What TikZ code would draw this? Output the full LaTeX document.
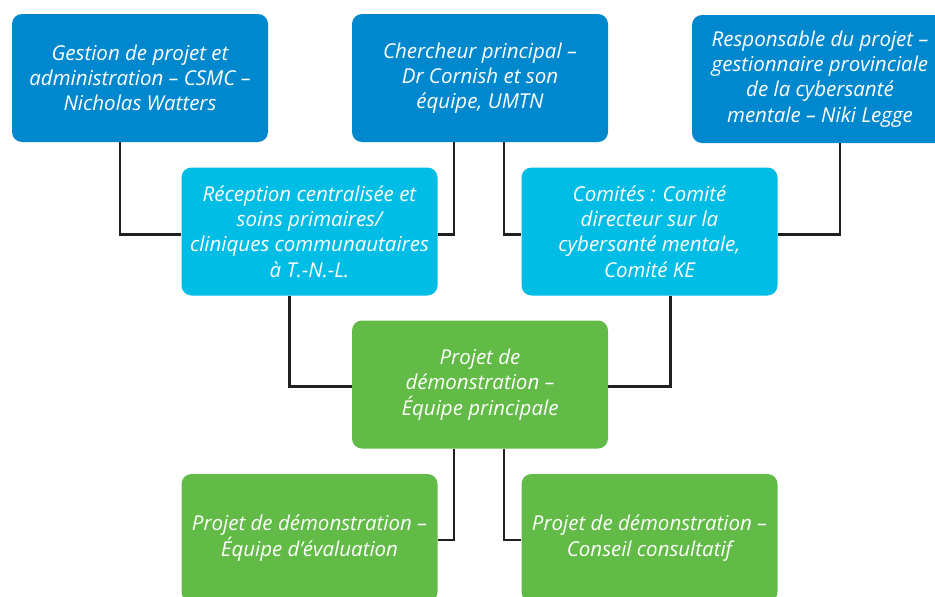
\documentclass[tikz,border=0pt]{standalone}
\usepackage{fontspec}
\setmainfont{Open Sans}
\definecolor{dblue}{HTML}{0088CE}
\definecolor{lblue}{HTML}{00BDE6}
\definecolor{lgreen}{HTML}{62BB46}
\definecolor{linec}{HTML}{231F20}
\tikzset{
  box/.style={rounded corners=10pt, minimum width=256pt, minimum height=128pt,
    align=center, text=white, inner sep=0pt,
    font=\fontsize{20.5}{25.3}\selectfont\itshape},
  topbox/.style={box, fill=dblue},
  midbox/.style={box, fill=lblue},
  grbox/.style={box, fill=lgreen},
  conn/.style={draw=linec, line width=2.4pt}
}
\begin{document}
\begin{tikzpicture}[x=1pt,y=-1pt]
\clip (0,0) rectangle (935,597);
\fill[white] (0,0) rectangle (935,597);
\node[topbox] (b1) at (140,78) {Gestion de projet et\\administration – CSMC –\\Nicholas Watters};
\node[topbox] (b2) at (480,78) {Chercheur principal –\\Dr Cornish et son\\équipe, UMTN};
\node[topbox] (b3) at (820,79) {Responsable du projet –\\gestionnaire provinciale\\de la cybersanté\\mentale – Niki Legge};
\node[midbox] (b4) at (309.5,231.5) {Réception centralisée et\\soins primaires/\\cliniques communautaires\\à T.-N.-L.};
\node[midbox] (b5) at (649.5,231.5) {Comités : Comité\\directeur sur la\\cybersanté mentale,\\Comité KE};
\node[grbox] (g) at (480,384.5) {Projet de\\démonstration –\\Équipe principale};
\node[grbox] (g1) at (309.5,538) {Projet de démonstration –\\Équipe d’évaluation};
\node[grbox] (g2) at (649.5,538) {Projet de démonstration –\\Conseil consultatif};
\draw[conn] ([xshift=-20pt]b1.south) |- ([yshift=-3pt]b4.west);
\draw[conn] ([xshift=-26pt]b2.south) |- ([yshift=-3pt]b4.east);
\draw[conn] ([xshift=24pt]b2.south) |- ([yshift=-3pt]b5.west);
\draw[conn] ([xshift=20pt]b3.south) |- ([yshift=-3pt]b5.east);
\draw[conn] ([xshift=-20pt]b4.south) |- ([yshift=-2pt]g.west);
\draw[conn] ([xshift=21pt]b5.south) |- ([yshift=-2pt]g.east);
\draw[conn] ([xshift=-26pt]g.south) |- ([yshift=-2pt]g1.east);
\draw[conn] ([xshift=24pt]g.south) |- ([yshift=-2pt]g2.west);
\end{tikzpicture}
\end{document}
